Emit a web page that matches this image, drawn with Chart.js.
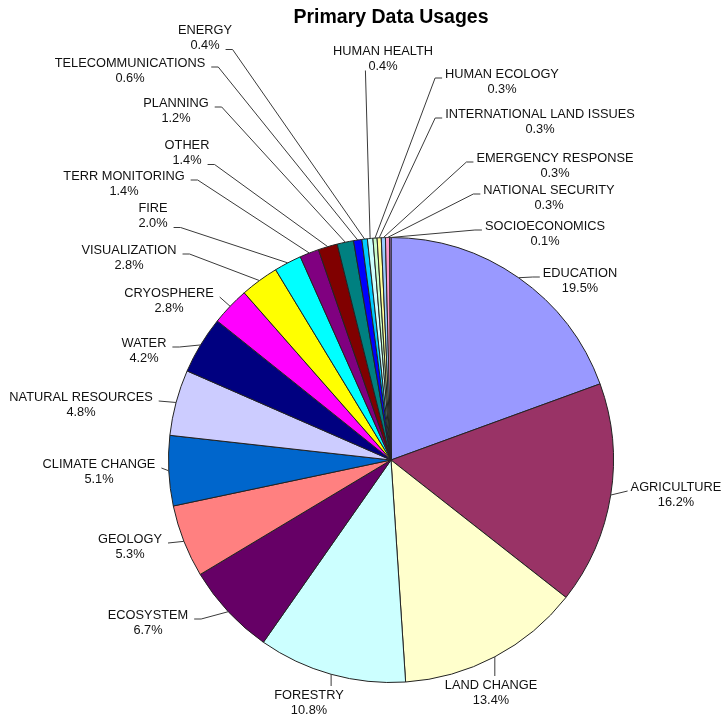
<!DOCTYPE html>
<html>
<head>
<meta charset="utf-8">
<script src="https://cdn.jsdelivr.net/npm/chart.js@4"></script>
<style>
  html, body { margin: 0; padding: 0; background: #fff; }
  canvas { display: block; }
</style>
</head>
<body>
<canvas id="myChart" width="722" height="717"></canvas>
<script>
const categories = [
    'EDUCATION', 'AGRICULTURE', 'LAND CHANGE', 'FORESTRY', 'ECOSYSTEM', 'GEOLOGY',
    'CLIMATE CHANGE', 'NATURAL RESOURCES', 'WATER', 'CRYOSPHERE', 'VISUALIZATION',
    'FIRE', 'TERR MONITORING', 'OTHER', 'PLANNING', 'TELECOMMUNICATIONS', 'ENERGY',
    'HUMAN HEALTH', 'HUMAN ECOLOGY', 'INTERNATIONAL LAND ISSUES', 'EMERGENCY RESPONSE',
    'NATIONAL SECURITY', 'SOCIOECONOMICS'
];
const shares = [19.5, 16.2, 13.4, 10.8, 6.7, 5.3, 5.1, 4.8, 4.2, 2.8, 2.8, 2.0, 1.4, 1.4, 1.2, 0.6, 0.4, 0.4, 0.3, 0.3, 0.3, 0.3, 0.1];
const sliceColors = [
    '#9999FF', '#993366', '#FFFFCC', '#CCFFFF', '#660066', '#FF8080',
    '#0066CC', '#CCCCFF', '#000080', '#FF00FF', '#FFFF00', '#00FFFF',
    '#800080', '#800000', '#008080', '#0000FF', '#00CCFF', '#CCFFFF',
    '#CCFFCC', '#FFFF99', '#99CCFF', '#FF99CC', '#CC99FF'
];

// label layout: [centre x, name line y, which line the leader meets (0 name, 1 percent)]
const labelSpots = [
    [580, 273, 0], [676, 487, 0], [491, 685, 0], [309, 695, 0], [148, 615, 0], [130, 539, 0],
    [99, 464, 0], [81, 397, 0], [144, 343, 0], [169, 293, 0], [129, 250, 0], [153, 208, 1],
    [124, 176, 0], [187, 145, 1], [176, 103, 0], [130, 63, 0], [205, 30, 1], [383, 51, 1],
    [502, 74, 0], [540, 114, 0], [555, 158, 0], [549, 190, 0], [545, 226, 0]
];

const LINE_GAP = 15.5;

const calloutLabels = {
    id: 'calloutLabels',
    afterDatasetsDraw(chart) {
        const ctx = chart.ctx;
        const arcs = chart.getDatasetMeta(0).data;
        ctx.save();
        ctx.font = '12.8px "Liberation Sans", Arial, sans-serif';
        ctx.textAlign = 'center';
        ctx.textBaseline = 'middle';
        arcs.forEach((arc, i) => {
            const p = arc.getProps(['x', 'y', 'startAngle', 'endAngle', 'outerRadius'], true);
            const mid = (p.startAngle + p.endAngle) / 2;
            const ax = p.x + Math.cos(mid) * p.outerRadius;
            const ay = p.y + Math.sin(mid) * p.outerRadius;
            const [tx, ty, ln] = labelSpots[i];
            const name = categories[i];
            const pct = shares[i].toFixed(1) + '%';

            ctx.strokeStyle = '#3a3a3a';
            ctx.lineWidth = 1;
            ctx.beginPath();
            if (ty > p.y + p.outerRadius - 10) {
                ctx.moveTo(ax, ay);
                ctx.lineTo(ax, ty - 9);
            } else {
                const ly = ty + ln * LINE_GAP + 4;
                const w = ctx.measureText(ln ? pct : name).width;
                let ex, tick;
                if (tx < ax) {
                    ex = tx + w / 2 + 6;
                    tick = ex + 7;
                } else {
                    ex = tx - w / 2 - 3;
                    tick = ex - 7;
                }
                ctx.moveTo(ex, ly);
                if (Math.abs(ax - ex) > 20) ctx.lineTo(tick, ly);
                ctx.lineTo(ax, ay);
            }
            ctx.stroke();

            ctx.fillStyle = '#111';
            ctx.fillText(name, tx, ty);
            ctx.fillText(pct, tx, ty + LINE_GAP);
        });
        ctx.restore();
    }
};

const ctx = document.getElementById('myChart').getContext('2d');
const myChart = new Chart(ctx, {
    type: 'pie',
    data: {
        labels: categories,
        datasets: [{
            data: shares,
            backgroundColor: sliceColors,
            borderColor: '#222',
            borderWidth: 1
        }]
    },
    options: {
        responsive: false,
        animation: false,
        layout: {
            padding: { left: 168, right: 108, top: 0, bottom: 34 }
        },
        plugins: {
            legend: { display: false },
            tooltip: { enabled: false },
            title: {
                display: true,
                text: 'Primary Data Usages',
                color: '#000',
                font: { family: '"Liberation Sans", Arial, sans-serif', size: 19.5, weight: 'bold' },
                padding: { top: 6, bottom: 207.6 }
            }
        }
    },
    plugins: [calloutLabels]
});
</script>
</body>
</html>
